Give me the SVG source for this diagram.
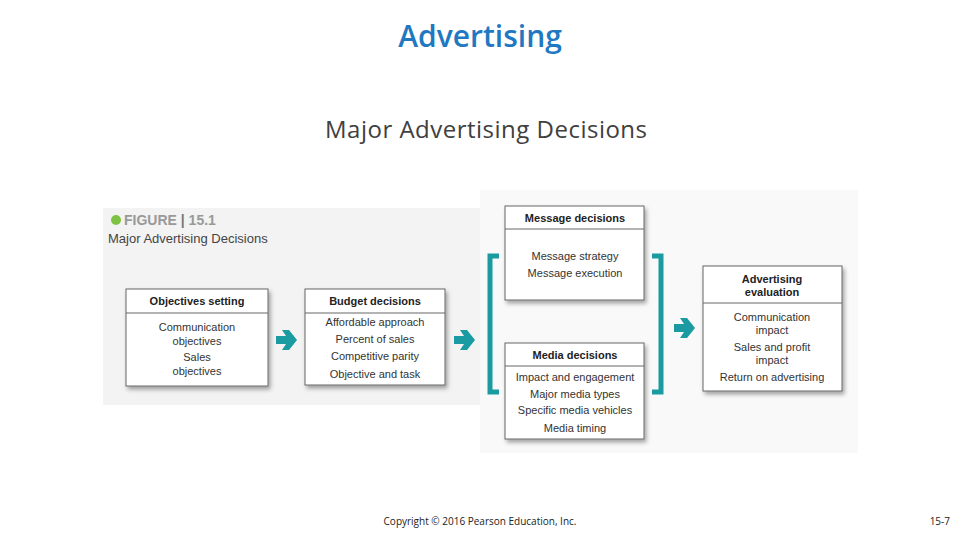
<svg xmlns="http://www.w3.org/2000/svg" width="960" height="540" viewBox="0 0 960 540">
<defs>
<filter id="sh" x="-10%" y="-10%" width="130%" height="130%"><feDropShadow dx="2" dy="3" stdDeviation="2" flood-color="#000" flood-opacity="0.35"/></filter>
<path id="arr" d="M0,-4 L10,-4 L6,-10 L13,-10 L21,0 L13,10 L6,10 L10,4 L0,4 Z"/>
</defs>
<style>
.box{fill:#fff;stroke:#666;stroke-width:1;filter:url(#sh)}
.ln{stroke:#666;stroke-width:1}
.h{font-family:"Liberation Sans",Arial,sans-serif;font-size:11px;font-weight:bold;fill:#222;text-anchor:middle}
.t{font-family:"Liberation Sans",Arial,sans-serif;font-size:11px;fill:#333;text-anchor:middle}
.br{fill:none;stroke:#1a9ba1;stroke-width:5}
.ar{fill:#1a9ba1}
</style>
<rect width="960" height="540" fill="#fff"/>
<text x="480" y="47" font-family="'Open Sans','Liberation Sans',sans-serif" font-size="30" font-weight="600" fill="#1f78c1" text-anchor="middle">Advertising</text>
<text x="486" y="138" font-family="'Open Sans','Liberation Sans',sans-serif" font-size="24" fill="#404040" text-anchor="middle" textLength="322">Major Advertising Decisions</text>
<rect x="103" y="208" width="378" height="197" fill="#f3f3f3"/>
<rect x="480" y="190" width="378" height="263" fill="#f9f9f9"/>
<circle cx="116" cy="220" r="5" fill="#7dc242"/>
<text x="124" y="225" font-family="'Liberation Sans',Arial,sans-serif" font-size="14" font-weight="bold" fill="#999">FIGURE <tspan fill="#777">|</tspan> 15.1</text>
<text x="108" y="243" font-family="'Liberation Sans',Arial,sans-serif" font-size="13" fill="#444">Major Advertising Decisions</text>
<g id="connectors">
<use href="#arr" x="276" y="340" class="ar"/>
<use href="#arr" x="454" y="340" class="ar"/>
<use href="#arr" x="674" y="328" class="ar"/>
<path class="br" d="M499,256 H490 V392 H499"/>
<path class="br" d="M652,256 H661 V392 H652"/>
</g>
<g id="objectives">
<rect class="box" x="126" y="289" width="142" height="97"/>
<line class="ln" x1="126" y1="313" x2="268" y2="313"/>
<text class="h" x="197" y="305">Objectives setting</text>
<text class="t" x="197" y="331">Communication</text>
<text class="t" x="197" y="345">objectives</text>
<text class="t" x="197" y="361">Sales</text>
<text class="t" x="197" y="375">objectives</text>
</g>
<g id="budget">
<rect class="box" x="305" y="289" width="140" height="96"/>
<line class="ln" x1="305" y1="313" x2="445" y2="313"/>
<text class="h" x="375" y="305">Budget decisions</text>
<text class="t" x="375" y="326">Affordable approach</text>
<text class="t" x="375" y="343">Percent of sales</text>
<text class="t" x="375" y="360">Competitive parity</text>
<text class="t" x="375" y="378">Objective and task</text>
</g>
<g id="message">
<rect class="box" x="505" y="206" width="139" height="94"/>
<line class="ln" x1="505" y1="229" x2="644" y2="229"/>
<text class="h" x="575" y="222">Message decisions</text>
<text class="t" x="575" y="260">Message strategy</text>
<text class="t" x="575" y="277">Message execution</text>
</g>
<g id="media">
<rect class="box" x="505" y="343" width="139" height="96"/>
<line class="ln" x1="505" y1="366" x2="644" y2="366"/>
<text class="h" x="575" y="359">Media decisions</text>
<text class="t" x="575" y="381">Impact and engagement</text>
<text class="t" x="575" y="398">Major media types</text>
<text class="t" x="575" y="414">Specific media vehicles</text>
<text class="t" x="575" y="432">Media timing</text>
</g>
<g id="evaluation">
<rect class="box" x="703" y="266" width="139" height="125"/>
<line class="ln" x1="703" y1="303" x2="842" y2="303"/>
<text class="h" x="772" y="283">Advertising</text>
<text class="h" x="772" y="296">evaluation</text>
<text class="t" x="772" y="321">Communication</text>
<text class="t" x="772" y="334">impact</text>
<text class="t" x="772" y="351">Sales and profit</text>
<text class="t" x="772" y="364">impact</text>
<text class="t" x="772" y="381">Return on advertising</text>
</g>
<text x="480" y="525" font-family="'Open Sans','Liberation Sans',sans-serif" font-size="10" fill="#222" text-anchor="middle">Copyright © 2016 Pearson Education, Inc.</text>
<text x="950" y="525" font-family="'Open Sans','Liberation Sans',sans-serif" font-size="10" fill="#222" text-anchor="end">15-7</text>
</svg>
